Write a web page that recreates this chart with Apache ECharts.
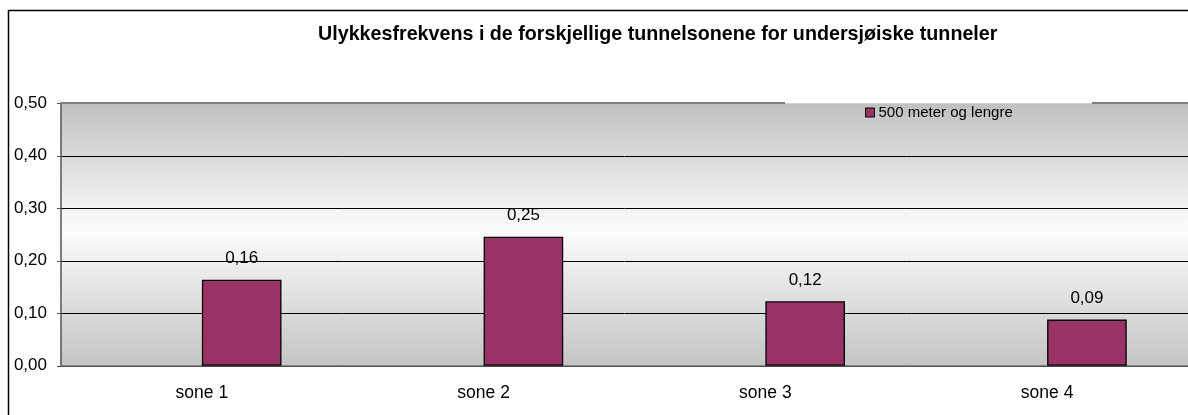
<!DOCTYPE html>
<html>
<head>
<meta charset="utf-8">
<script src="https://cdn.jsdelivr.net/npm/echarts@6/dist/echarts.min.js"></script>
<style>
    html, body { margin: 0; padding: 0; background: #fff; }
    #chart { width: 1188px; height: 415px; }
</style>
</head>
<body>
<div id="chart"></div>
<script>
// data
var soner = ['sone 1', 'sone 2', 'sone 3', 'sone 4'];
var frekvens = [0.164, 0.246, 0.123, 0.088];
var tomSerie = [null, null, null, null]; // Excel-diagrammet har en tom serie til venstre
var yMin = 0, yMax = 0.5, yStep = 0.1;

function komma(v) {
    return v.toFixed(2).replace('.', ',');
}

var font = "'Liberation Sans', Arial, sans-serif";
var chart = echarts.init(document.getElementById('chart'));

var option = {
    animation: false,
    title: {
        text: 'Ulykkesfrekvens i de forskjellige tunnelsonene for undersjøiske tunneler',
        left: 318,
        top: 25,
        padding: 0,
        textStyle: { fontFamily: font, fontSize: 19.7, fontWeight: 'bold', color: '#000' }
    },
    legend: {
        data: ['500 meter og lengre'],
        left: 865,
        top: 105,
        padding: 0,
        icon: 'rect',
        itemWidth: 9,
        itemHeight: 9,
        itemGap: 5,
        itemStyle: { color: '#993366', borderColor: '#000', borderWidth: 1 },
        textStyle: { fontFamily: font, fontSize: 15, color: '#000', padding: [0, 0, 0, -1] }
    },
    grid: {
        left: 61,
        top: 103.3,
        right: -5.6,
        bottom: 49.2,
        show: true,
        borderWidth: 0,
        backgroundColor: new echarts.graphic.LinearGradient(0, 0, 0, 1, [
            { offset: 0, color: '#c0c0c0' },
            { offset: 0.48, color: '#fdfdfd' },
            { offset: 1, color: '#c4c4c4' }
        ])
    },
    xAxis: {
        type: 'category',
        data: soner,
        axisLine: { lineStyle: { color: '#6e6e6e', width: 1.5 } },
        axisTick: { length: 5, lineStyle: { color: '#808080' } },
        axisLabel: { fontFamily: font, fontSize: 17.5, color: '#000', margin: 18 }
    },
    yAxis: {
        type: 'value',
        min: yMin,
        max: yMax,
        interval: yStep,
        axisLine: { show: true, lineStyle: { color: '#555', width: 1.5 } },
        axisTick: { show: true, length: 4, lineStyle: { color: '#555' } },
        axisLabel: { fontFamily: font, fontSize: 17, color: '#000', margin: 14, formatter: komma },
        splitLine: { show: true, showMaxLine: false, lineStyle: { color: '#000', width: 1 } }
    },
    series: [
        {
            name: 'tom',
            type: 'bar',
            data: tomSerie,
            barGap: 0,
            barCategoryGap: '43.5%'
        },
        {
            name: '500 meter og lengre',
            type: 'bar',
            data: frekvens,
            barGap: 0,
            barCategoryGap: '43.5%',
            itemStyle: { color: '#993366', borderColor: '#000', borderWidth: 1.3 },
            label: {
                show: true,
                position: 'top',
                distance: 12.5,
                fontFamily: font,
                fontSize: 17,
                color: '#000',
                formatter: function (p) { return komma(p.value); }
            }
        }
    ],
    graphic: [
        // ytre ramme
        { type: 'rect', z: 100, shape: { x: 8.5, y: 10.5, width: 1220, height: 440 }, style: { fill: null, stroke: '#000', lineWidth: 1.5 } },
        // øvre kant av plottet (avbrutt der forklaringen står)
        { type: 'line', z: 100, shape: { x1: 61, y1: 103, x2: 785, y2: 103 }, style: { stroke: '#808080', lineWidth: 2 } },
        { type: 'line', z: 100, shape: { x1: 1092, y1: 103, x2: 1188, y2: 103 }, style: { stroke: '#808080', lineWidth: 2 } }
    ]
};

chart.setOption(option);
</script>
</body>
</html>
